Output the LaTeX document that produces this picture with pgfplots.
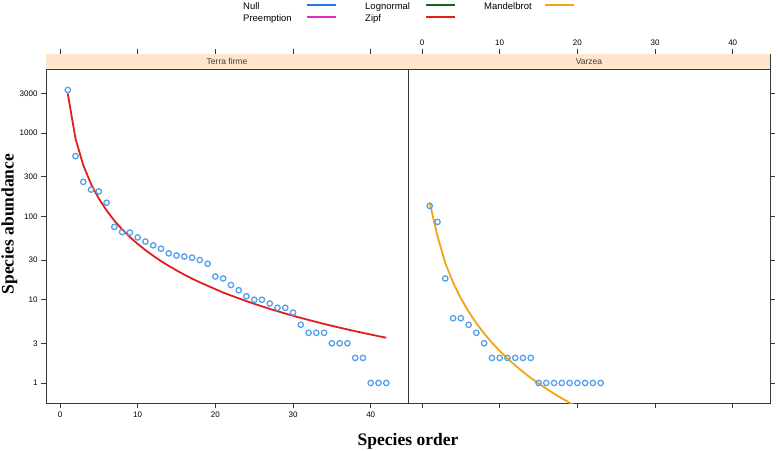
\documentclass[border=0pt]{standalone}
\usepackage{fontspec}
\setmainfont{Liberation Sans}
\newfontfamily\lserif{Liberation Serif}
\usepackage{pgfplots}
\pgfplotsset{compat=1.18}
\definecolor{stripc}{HTML}{FFE5CC}
\definecolor{axisc}{RGB}{55,55,55}
\definecolor{ptc}{RGB}{85,160,235}
\definecolor{zipfc}{RGB}{225,30,30}
\definecolor{mandc}{RGB}{240,165,20}
\definecolor{nullc}{RGB}{30,120,230}
\definecolor{preec}{RGB}{230,40,200}
\definecolor{lognc}{RGB}{20,100,30}
\definecolor{stript}{RGB}{60,60,60}
\pgfplotsset{
  panel/.style={
    scale only axis, width=362pt, height=349pt,
    xmin=-1.8, xmax=44.8, ymin=0.575, ymax=8930,
    xtick={0,10,20,30,40}, xticklabels={0,10,20,30,40},
    ytick={1,3,10,30,100,300,1000,3000},
    minor tick num=0, tick align=outside, major tick length=5pt,
    axis line style={draw=axisc, line width=0.8pt},
    every tick/.style={draw=axisc, line width=0.8pt},
    ticklabel style={font=\fontsize{8}{9}\selectfont, text=black}
  },
  pts/.style={only marks, mark=o, mark size=2.7pt, mark options={draw=ptc, line width=1.3pt}}
}
\begin{document}
\begin{tikzpicture}
\useasboundingbox (0,0) rectangle (778pt,450pt);
% left panel
\begin{semilogyaxis}[panel, at={(46pt,47pt)}, anchor=south west,
  xtick pos=both, xticklabel pos=lower, ytick pos=left,
  yticklabels={1,3,10,30,100,300,1000,3000}]
\fill[stripc] (rel axis cs:0,0.95702) rectangle (rel axis cs:1,1);
\draw[axisc, line width=0.8pt] (rel axis cs:0,0.95702) -- (rel axis cs:1,0.95702);
\node[font=\fontsize{8.5}{10}\selectfont, text=stript] at (rel axis cs:0.5,0.97851) {Terra firme};
\addplot[pts] coordinates {
(1,3300) (2,530) (3,260) (4,210) (5,200) (6,146) (7,75) (8,65) (9,64) (10,56)
(11,50) (12,45) (13,41) (14,36) (15,34) (16,33) (17,32) (18,30) (19,27) (20,19)
(21,18) (22,15) (23,13) (24,11) (25,10) (26,10) (27,9) (28,8) (29,8) (30,7)
(31,5) (32,4) (33,4) (34,4) (35,3) (36,3) (37,3) (38,2) (39,2) (40,1) (41,1) (42,1)};
\addplot[zipfc, line width=1.8pt] coordinates {
(1,3000) (2,857) (3,412) (4,245) (5,164) (6,118) (7,89) (8,70) (9,56.6) (10,46.8)
(11,39.4) (12,33.7) (13,29.1) (14,25.5) (15,22.5) (16,20.0) (17,17.9) (18,16.2) (19,14.7) (20,13.4)
(21,12.2) (22,11.25) (23,10.39) (24,9.62) (25,8.94) (26,8.32) (27,7.77) (28,7.28) (29,6.83) (30,6.42)
(31,6.05) (32,5.72) (33,5.41) (34,5.12) (35,4.86) (36,4.62) (37,4.40) (38,4.19) (39,4.00) (40,3.82)
(41,3.65) (42,3.50)};
\end{semilogyaxis}
% right panel
\begin{semilogyaxis}[panel, at={(408pt,47pt)}, anchor=south west,
  xtick pos=both, xticklabel pos=upper, ytick pos=right, yticklabels={}]
\fill[stripc] (rel axis cs:0,0.95702) rectangle (rel axis cs:1,1);
\draw[axisc, line width=0.8pt] (rel axis cs:0,0.95702) -- (rel axis cs:1,0.95702);
\node[font=\fontsize{8.5}{10}\selectfont, text=stript] at (rel axis cs:0.5,0.97851) {Varzea};
\addplot[pts] coordinates {
(1,134) (2,86) (3,18) (4,6) (5,6) (6,5) (7,4) (8,3) (9,2) (10,2) (11,2) (12,2) (13,2) (14,2)
(15,1) (16,1) (17,1) (18,1) (19,1) (20,1) (21,1) (22,1) (23,1)};
\addplot[mandc, line width=1.8pt] coordinates {
(1,145.4) (2,58) (3,27.55) (4,16.12) (5,10.41) (6,7.19) (7,5.22) (8,3.93) (9,3.05) (10,2.43)
(11,1.97) (12,1.63) (13,1.36) (14,1.15) (15,0.989) (16,0.855) (17,0.745) (18,0.655) (19,0.579) (20,0.515)
(21,0.460) (22,0.414) (23,0.374)};
\end{semilogyaxis}
% axis titles
\node[anchor=base, font=\lserif\bfseries\fontsize{17.5}{20}\selectfont] at (408pt,4.2pt) {Species order};
\node[anchor=base, rotate=90, font=\lserif\bfseries\fontsize{17.5}{20}\selectfont] at (13.6pt,226pt) {Species abundance};
% legend
\begin{scope}[every node/.style={anchor=base west, inner sep=0pt, font=\fontsize{9.5}{11}\selectfont}]
\node at (243pt,440.3pt) {Null};
\node at (243pt,428.8pt) {Preemption};
\node at (365pt,440.3pt) {Lognormal};
\node at (365pt,428.8pt) {Zipf};
\node at (484pt,440.3pt) {Mandelbrot};
\draw[nullc, line width=2pt] (307pt,445pt) -- (336pt,445pt);
\draw[preec, line width=2pt] (307pt,433pt) -- (336pt,433pt);
\draw[lognc, line width=2pt] (426pt,445pt) -- (455pt,445pt);
\draw[zipfc, line width=2pt] (426pt,433pt) -- (455pt,433pt);
\draw[mandc, line width=2pt] (545pt,445pt) -- (574pt,445pt);
\end{scope}
\end{tikzpicture}
\end{document}
